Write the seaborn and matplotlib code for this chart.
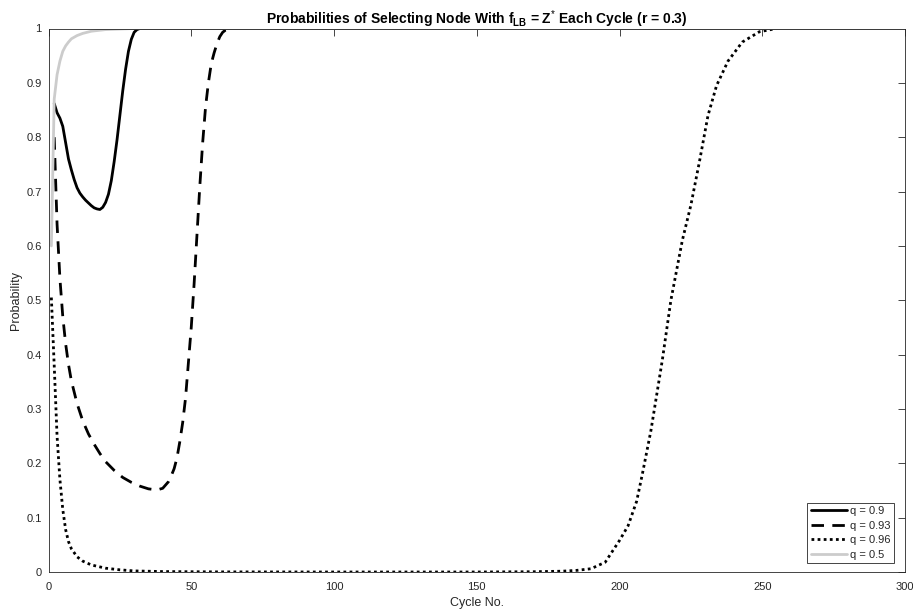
import numpy as np
import pandas as pd
import matplotlib
matplotlib.use("Agg")
import matplotlib.pyplot as plt
from matplotlib.ticker import FuncFormatter
import seaborn as sns

# ---- data ----
x_q090 = [2, 3, 4, 5, 6, 7, 8, 9, 10, 11, 12, 13, 14, 15, 16, 17, 18, 19, 20,
          21, 22, 23, 24, 25, 26, 27, 28, 29, 30, 31, 32, 300]
y_q090 = [0.862, 0.845, 0.835, 0.82, 0.79, 0.76, 0.74, 0.722, 0.707, 0.697, 0.69,
          0.684, 0.679, 0.674, 0.67, 0.668, 0.667, 0.671, 0.68, 0.695, 0.72, 0.755,
          0.795, 0.84, 0.885, 0.925, 0.958, 0.98, 0.993, 0.998, 1.0, 1.0]

x_q093 = [2, 3, 4, 5, 6, 7, 8, 10, 12, 14, 16, 18, 20, 23, 26, 29, 32, 35, 38, 40,
          42, 43, 44, 45, 46, 47, 48, 49, 50, 51, 52, 53, 54, 55, 56, 57, 58, 59,
          60, 61, 62, 64, 300]
y_q093 = [0.80, 0.64, 0.54, 0.47, 0.42, 0.382, 0.352, 0.31, 0.278, 0.254, 0.235,
          0.218, 0.203, 0.187, 0.174, 0.165, 0.158, 0.153, 0.151, 0.154, 0.166,
          0.177, 0.19, 0.21, 0.24, 0.275, 0.32, 0.385, 0.45, 0.53, 0.62, 0.71, 0.79,
          0.855, 0.9, 0.935, 0.955, 0.972, 0.985, 0.993, 0.997, 1.0, 1.0]

x_q096 = [1, 2, 3, 4, 5, 6, 7, 8, 10, 12, 15, 20, 25, 30, 40, 60, 100, 150, 170,
          180, 185, 190, 195, 200, 203, 206, 208, 211, 215, 218, 222, 225, 228, 231,
          234, 238, 243, 249, 255, 300]
y_q096 = [0.505, 0.38, 0.25, 0.17, 0.115, 0.078, 0.056, 0.043, 0.028, 0.02, 0.013,
          0.007, 0.004, 0.002, 0.0008, 0.0002, 0.0, 0.0, 0.0005, 0.0015, 0.003, 0.006,
          0.018, 0.058, 0.085, 0.13, 0.18, 0.26, 0.39, 0.5, 0.61, 0.675, 0.755, 0.84,
          0.895, 0.94, 0.975, 0.994, 1.0, 1.0]

x_q050 = [1, 2, 3, 4, 5, 6, 7, 8, 10, 12, 15, 20, 25, 30, 300]
y_q050 = [0.6, 0.87, 0.915, 0.94, 0.958, 0.968, 0.975, 0.981, 0.987, 0.991, 0.995,
          0.998, 0.999, 1.0, 1.0]

labels = ["q = 0.9", "q = 0.93", "q = 0.96", "q = 0.5"]
x_ticks = [0, 50, 100, 150, 200, 250, 300]
y_ticks = [0, 0.1, 0.2, 0.3, 0.4, 0.5, 0.6, 0.7, 0.8, 0.9, 1]

# ---- style ----
sns.set_theme(style="white")
plt.rcParams["font.family"] = ["Liberation Sans", "DejaVu Sans"]
plt.rcParams["mathtext.fontset"] = "custom"
plt.rcParams["mathtext.rm"] = "Liberation Sans"
plt.rcParams["mathtext.it"] = "Liberation Sans:italic"
plt.rcParams["mathtext.bf"] = "Liberation Sans:bold"

axcol = (0.15, 0.15, 0.15)
W, H = 913, 614
fig = plt.figure(figsize=(W / 100, H / 100), dpi=100)
left, right, top, bottom = 48.5, 905, 28.5, 572
ax = fig.add_axes([left / W, 1 - bottom / H, (right - left) / W, (bottom - top) / H])

series = [
    (x_q090, y_q090, labels[0], "black", "-"),
    (x_q093, y_q093, labels[1], "black", (0, (4.5, 3))),
    (x_q096, y_q096, labels[2], "black", (0, (1, 1.2))),
    (x_q050, y_q050, labels[3], (0.80, 0.80, 0.80), "-"),
]
for xs, ys, lab, col, ls in series:
    df = pd.DataFrame({"Cycle": xs, "Prob": ys})
    sns.lineplot(data=df, x="Cycle", y="Prob", ax=ax, color=col, linestyle=ls,
                 linewidth=2.0, label=lab, estimator=None)

ax.set_xlim(0, 300)
ax.set_ylim(0, 1)
ax.set_xticks(x_ticks)
ax.set_yticks(y_ticks)
ax.yaxis.set_major_formatter(FuncFormatter(lambda v, p: f"{v:g}"))
ax.tick_params(direction="in", length=5, width=0.6, colors=axcol, labelsize=8,
               top=True, right=True, labeltop=False, labelright=False)
ax.tick_params(axis="x", pad=7)
ax.tick_params(axis="y", pad=5)
for s in ax.spines.values():
    s.set_color(axcol)
    s.set_linewidth(0.6)

ax.set_xlabel("Cycle No.", fontsize=9, color=axcol, labelpad=4)
ax.set_ylabel("Probability", fontsize=9, color=axcol, labelpad=3)
ax.set_title(r"Probabilities of Selecting Node With f$_{\mathbf{LB}}$ = Z$^{*}$ Each Cycle (r = 0.3)",
             fontsize=10, fontweight="bold", color="black", pad=3)

leg = ax.legend(loc="lower right", bbox_to_anchor=(0.987, 0.0165), borderaxespad=0,
                fontsize=8, handlelength=3.3, handletextpad=0.25, labelspacing=0.4,
                borderpad=0.3, frameon=True, fancybox=False, framealpha=1,
                edgecolor=axcol)
leg.get_frame().set_linewidth(0.6)
for t in leg.get_texts():
    t.set_color(axcol)

fig.savefig("out.png", dpi=100)
